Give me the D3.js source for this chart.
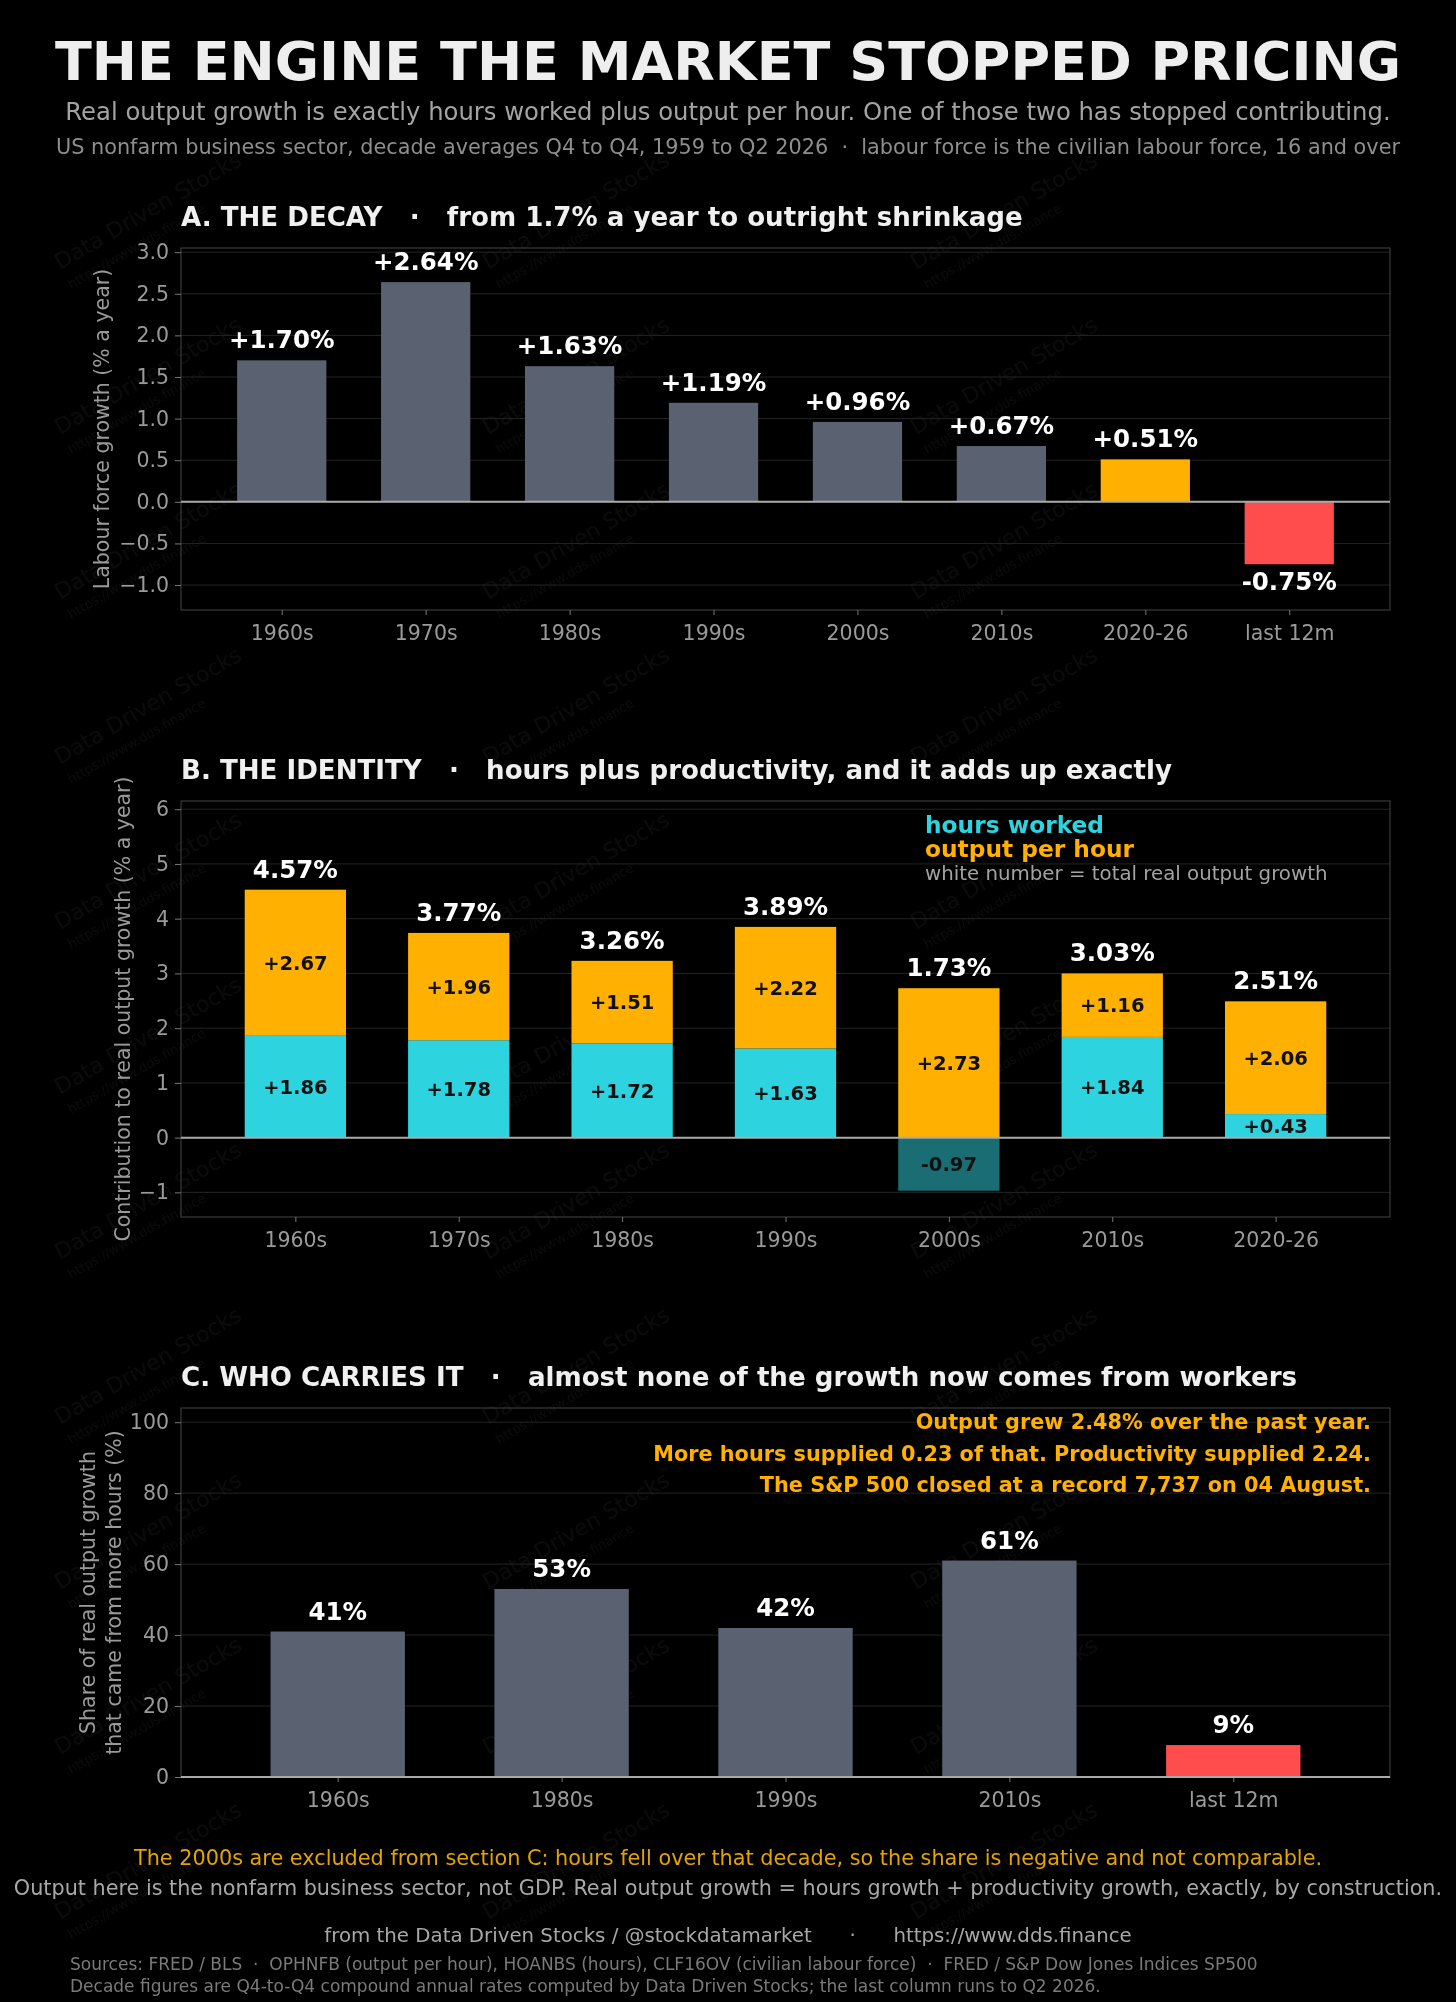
<!DOCTYPE html>
<html>
<head>
<meta charset="utf-8">
<script src="https://cdn.jsdelivr.net/npm/d3@7"></script>
<style>
  html, body { margin: 0; padding: 0; background: #000; }
  svg { display: block; font-family: "DejaVu Sans", sans-serif; }
</style>
</head>
<body>
<svg id="chart"></svg>
<script>
// ---- data ----
const decadesA = ["1960s", "1970s", "1980s", "1990s", "2000s", "2010s", "2020-26", "last 12m"];
const labourForce = [1.70, 2.64, 1.63, 1.19, 0.96, 0.67, 0.51, -0.75];
const ticksA = [-1.0, -0.5, 0.0, 0.5, 1.0, 1.5, 2.0, 2.5, 3.0];

const decadesB = ["1960s", "1970s", "1980s", "1990s", "2000s", "2010s", "2020-26"];
const hoursContrib = [1.86, 1.78, 1.72, 1.63, -0.97, 1.84, 0.43];
const prodContrib = [2.67, 1.96, 1.51, 2.22, 2.73, 1.16, 2.06];
const totalOutput = [4.57, 3.77, 3.26, 3.89, 1.73, 3.03, 2.51];
const ticksB = [-1, 0, 1, 2, 3, 4, 5, 6];

const decadesC = ["1960s", "1980s", "1990s", "2010s", "last 12m"];
const hoursShare = [41, 53, 42, 61, 9];
const ticksC = [0, 20, 40, 60, 80, 100];

const annotC = [
  "Output grew 2.48% over the past year.",
  "More hours supplied 0.23 of that. Productivity supplied 2.24.",
  "The S&P 500 closed at a record 7,737 on 04 August."
];

// ---- style ----
const W = 1456, H = 2002;
const C = {
  gray: "#5a6271", orange: "#ffb000", red: "#ff4d4d", cyan: "#2dd4df",
  cyanNeg: "#1a6d72", text: "#f0f0f0", sub: "#a3a3a3", tick: "#9a9a9a",
  grid: "#242424", frame: "#444", zero: "#aaa"
};
const colourFor = d => d === "2020-26" ? C.orange : d === "last 12m" ? C.red : C.gray;
const plotLeft = 181, plotRight = 1390;

const svg = d3.select("#chart").attr("width", W).attr("height", H);
svg.append("rect").attr("width", W).attr("height", H).attr("fill", "#000");

// faint watermark tiles (drawn first, under everything but the background)
const wm = svg.append("g").attr("pointer-events", "none").attr("opacity", 0.045);
for (let cx = 60; cx < W - 200; cx += 428) {
  for (let cy = 270; cy < H; cy += 165) {
    const t = wm.append("g").attr("transform", `translate(${cx},${cy}) rotate(-30)`);
    t.append("text").attr("font-size", 22).attr("fill", "#fff").text("Data Driven Stocks");
    t.append("text").attr("y", 22).attr("font-size", 13).attr("fill", "#fff").text("https://www.dds.finance");
  }
}

// header
svg.append("text").attr("x", W / 2).attr("y", 80).attr("text-anchor", "middle")
  .attr("font-size", 54).attr("font-weight", "bold").attr("fill", "#eeeeee")
  .text("THE ENGINE THE MARKET STOPPED PRICING");
svg.append("text").attr("x", W / 2).attr("y", 120).attr("text-anchor", "middle")
  .attr("font-size", 24.3).attr("fill", C.sub)
  .text("Real output growth is exactly hours worked plus output per hour. One of those two has stopped contributing.");
svg.append("text").attr("x", W / 2).attr("y", 154).attr("text-anchor", "middle")
  .attr("font-size", 20.8).attr("fill", "#8e8e8e").attr("xml:space", "preserve")
  .text("US nonfarm business sector, decade averages Q4 to Q4, 1959 to Q2 2026  ·  labour force is the civilian labour force, 16 and over");

// shared panel frame: title, grid, axes
function panel({ top, bottom, cats, yDomain, ticks, tickFmt, title, ylabel, ylabelX }) {
  const g = svg.append("g");
  const x = d3.scaleLinear().domain([-0.7, cats.length - 0.3]).range([plotLeft, plotRight]);
  const y = d3.scaleLinear().domain(yDomain).range([bottom, top]);

  g.append("text").attr("x", plotLeft).attr("y", top - 22)
    .attr("font-size", 26.1).attr("font-weight", "bold").attr("fill", C.text)
    .attr("xml:space", "preserve").text(title);

  g.selectAll("line.grid").data(ticks).join("line").attr("class", "grid")
    .attr("x1", plotLeft).attr("x2", plotRight)
    .attr("y1", d => y(d)).attr("y2", d => y(d))
    .attr("stroke", C.grid).attr("stroke-width", 1);

  g.append("rect").attr("x", plotLeft).attr("y", top)
    .attr("width", plotRight - plotLeft).attr("height", bottom - top)
    .attr("fill", "none").attr("stroke", C.frame).attr("stroke-width", 1);

  const ax = g.append("g").attr("transform", `translate(0,${bottom})`)
    .call(d3.axisBottom(x).tickValues(d3.range(cats.length)).tickFormat(i => cats[i])
      .tickSize(5).tickPadding(10));
  const ay = g.append("g").attr("transform", `translate(${plotLeft},0)`)
    .call(d3.axisLeft(y).tickValues(ticks).tickFormat(tickFmt).tickSize(6).tickPadding(6));
  [ax, ay].forEach(a => {
    a.select(".domain").remove();
    a.selectAll("line").attr("stroke", "#777");
    a.selectAll("text").attr("fill", C.tick).attr("font-size", 20.5)
      .attr("font-family", "DejaVu Sans");
  });

  const yl = g.append("text").attr("text-anchor", "middle")
    .attr("transform", `translate(${ylabelX[0]},${(top + bottom) / 2}) rotate(-90)`)
    .attr("font-size", 20.5).attr("fill", C.tick);
  ylabel.forEach((line, i) => {
    yl.append("tspan").attr("x", 0).attr("y", (i - (ylabel.length - 1) / 2) * 26 + 7).text(line);
  });
  return { g, x, y };
}

// ---- A ----
{
  const { g, x, y } = panel({
    top: 248, bottom: 610, cats: decadesA, yDomain: [-1.3, 3.05], ticks: ticksA,
    tickFmt: d3.format(".1f"),
    title: "A. THE DECAY   ·   from 1.7% a year to outright shrinkage",
    ylabel: ["Labour force growth (% a year)"], ylabelX: [102]
  });
  const bw = (x(0.62) - x(0));
  const rows = decadesA.map((d, i) => ({ d, i, v: labourForce[i] }));
  g.selectAll("rect.bar").data(rows).join("rect").attr("class", "bar")
    .attr("x", r => x(r.i) - bw / 2).attr("width", bw)
    .attr("y", r => y(Math.max(0, r.v))).attr("height", r => Math.abs(y(r.v) - y(0)))
    .attr("fill", r => colourFor(r.d));
  g.append("line").attr("x1", plotLeft).attr("x2", plotRight)
    .attr("y1", y(0)).attr("y2", y(0)).attr("stroke", C.zero).attr("stroke-width", 2);
  g.selectAll("text.val").data(rows).join("text").attr("class", "val")
    .attr("x", r => x(r.i)).attr("y", r => r.v >= 0 ? y(r.v) - 12 : y(r.v) + 26)
    .attr("text-anchor", "middle").attr("font-size", 24.5).attr("font-weight", "bold")
    .attr("fill", "#fff").text(r => (r.v >= 0 ? "+" : "-") + Math.abs(r.v).toFixed(2) + "%");
}

// ---- B ----
{
  const { g, x, y } = panel({
    top: 801, bottom: 1217, cats: decadesB, yDomain: [-1.45, 6.15], ticks: ticksB,
    tickFmt: d3.format("d"),
    title: "B. THE IDENTITY   ·   hours plus productivity, and it adds up exactly",
    ylabel: ["Contribution to real output growth (% a year)"], ylabelX: [123]
  });
  const bw = (x(0.62) - x(0));
  const rows = decadesB.map((d, i) => {
    const h = hoursContrib[i], p = prodContrib[i];
    const base = Math.max(h, 0);
    return { i, h, p, base, top: base + p, total: totalOutput[i] };
  });
  g.selectAll("rect.hours").data(rows).join("rect").attr("class", "hours")
    .attr("x", r => x(r.i) - bw / 2).attr("width", bw)
    .attr("y", r => y(Math.max(0, r.h))).attr("height", r => Math.abs(y(r.h) - y(0)))
    .attr("fill", r => r.h >= 0 ? C.cyan : C.cyanNeg);
  g.selectAll("rect.prod").data(rows).join("rect").attr("class", "prod")
    .attr("x", r => x(r.i) - bw / 2).attr("width", bw)
    .attr("y", r => y(r.top)).attr("height", r => y(r.base) - y(r.top))
    .attr("fill", C.orange);
  g.append("line").attr("x1", plotLeft).attr("x2", plotRight)
    .attr("y1", y(0)).attr("y2", y(0)).attr("stroke", C.zero).attr("stroke-width", 2);
  const sgn = v => (v >= 0 ? "+" : "-") + Math.abs(v).toFixed(2);
  g.selectAll("text.hl").data(rows).join("text").attr("class", "hl")
    .attr("x", r => x(r.i)).attr("y", r => y(r.h / 2) + 7)
    .attr("text-anchor", "middle").attr("font-size", 19.5).attr("font-weight", "bold")
    .attr("fill", "#111").text(r => sgn(r.h));
  g.selectAll("text.pl").data(rows).join("text").attr("class", "pl")
    .attr("x", r => x(r.i)).attr("y", r => y(r.base + r.p / 2) + 7)
    .attr("text-anchor", "middle").attr("font-size", 19.5).attr("font-weight", "bold")
    .attr("fill", "#111").text(r => sgn(r.p));
  g.selectAll("text.tot").data(rows).join("text").attr("class", "tot")
    .attr("x", r => x(r.i)).attr("y", r => y(r.top) - 12)
    .attr("text-anchor", "middle").attr("font-size", 24.5).attr("font-weight", "bold")
    .attr("fill", "#fff").text(r => r.total.toFixed(2) + "%");

  const lg = g.append("g").attr("transform", "translate(925,0)");
  lg.append("text").attr("y", 833).attr("font-size", 23.3).attr("font-weight", "bold")
    .attr("fill", C.cyan).text("hours worked");
  lg.append("text").attr("y", 857).attr("font-size", 23.3).attr("font-weight", "bold")
    .attr("fill", C.orange).text("output per hour");
  lg.append("text").attr("y", 880).attr("font-size", 19.8)
    .attr("fill", C.sub).text("white number = total real output growth");
}

// ---- C ----
{
  const { g, x, y } = panel({
    top: 1408, bottom: 1777, cats: decadesC, yDomain: [0, 104], ticks: ticksC,
    tickFmt: d3.format("d"),
    title: "C. WHO CARRIES IT   ·   almost none of the growth now comes from workers",
    ylabel: ["Share of real output growth", "that came from more hours (%)"], ylabelX: [101]
  });
  const bw = (x(0.6) - x(0));
  const rows = decadesC.map((d, i) => ({ d, i, v: hoursShare[i] }));
  g.selectAll("rect.bar").data(rows).join("rect").attr("class", "bar")
    .attr("x", r => x(r.i) - bw / 2).attr("width", bw)
    .attr("y", r => y(r.v)).attr("height", r => y(0) - y(r.v))
    .attr("fill", r => colourFor(r.d));
  g.append("line").attr("x1", plotLeft).attr("x2", plotRight)
    .attr("y1", y(0)).attr("y2", y(0)).attr("stroke", C.zero).attr("stroke-width", 2);
  g.selectAll("text.val").data(rows).join("text").attr("class", "val")
    .attr("x", r => x(r.i)).attr("y", r => y(r.v) - 12)
    .attr("text-anchor", "middle").attr("font-size", 24.5).attr("font-weight", "bold")
    .attr("fill", "#fff").text(r => r.v + "%");
  g.selectAll("text.note").data(annotC).join("text").attr("class", "note")
    .attr("x", 1371).attr("y", (d, i) => 1429 + i * 31.5)
    .attr("text-anchor", "end").attr("font-size", 20.8).attr("font-weight", "bold")
    .attr("fill", C.orange).text(d => d);
}

// footer
const foot = [
  { t: "The 2000s are excluded from section C: hours fell over that decade, so the share is negative and not comparable.", y: 1865, s: 20.8, c: "#e3a300" },
  { t: "Output here is the nonfarm business sector, not GDP. Real output growth = hours growth + productivity growth, exactly, by construction.", y: 1895, s: 20.75, c: "#a8a8a8" },
  { t: "from the Data Driven Stocks / @stockdatamarket      ·      https://www.dds.finance", y: 1942, s: 19.8, c: "#a8a8a8" }
];
svg.selectAll("text.foot").data(foot).join("text").attr("class", "foot")
  .attr("x", W / 2).attr("y", d => d.y).attr("text-anchor", "middle")
  .attr("font-size", d => d.s).attr("fill", d => d.c).attr("xml:space", "preserve").text(d => d.t);
svg.append("text").attr("x", 70).attr("y", 1970).attr("font-size", 17).attr("fill", "#7a7a7a")
  .attr("xml:space", "preserve")
  .text("Sources: FRED / BLS  ·  OPHNFB (output per hour), HOANBS (hours), CLF16OV (civilian labour force)  ·  FRED / S&P Dow Jones Indices SP500");
svg.append("text").attr("x", 70).attr("y", 1992).attr("font-size", 17).attr("fill", "#7a7a7a")
  .text("Decade figures are Q4-to-Q4 compound annual rates computed by Data Driven Stocks; the last column runs to Q2 2026.");
</script>
</body>
</html>
